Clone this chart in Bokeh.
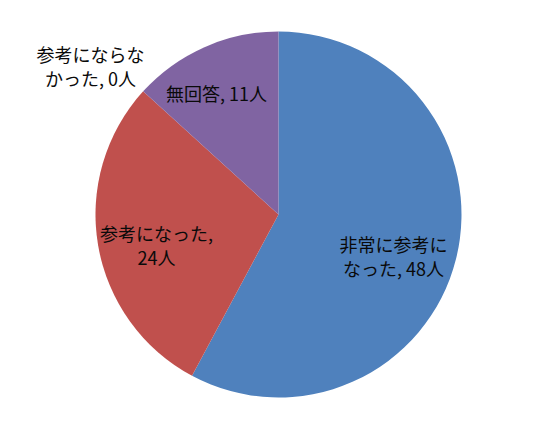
import numpy as np
from bokeh.plotting import figure
from bokeh.models import Range1d, ColumnDataSource
from bokeh.core.properties import value
from bokeh.embed import file_html
from bokeh.resources import INLINE

# ---- data ----
categories = ["非常に参考になった", "参考になった", "参考にならなかった", "無回答"]
counts = [48, 24, 0, 11]
label_texts = ["非常に参考に\nなった, 48人", "参考になった,\n24人", "参考にならな\nかった, 0人", "無回答, 11人"]

# ---- styles / layout ----
colors = ["#4F81BD", "#C0504D", "#9BBB59", "#8064A2"]
W, H = 518, 405
PAGE_H = 421
CX, CY, R = 278, PAGE_H - 214, 183
label_px = [(393, 255.5), (156, 244.5), (90, 65.5), (216, 92)]

vals = np.array(counts, dtype=float)
frac = vals / vals.sum()
cum_end = np.cumsum(frac)
cum_start = cum_end - frac
start = np.pi / 2 - 2 * np.pi * cum_start
end = np.pi / 2 - 2 * np.pi * cum_end

keep = vals > 0
wsrc = ColumnDataSource(dict(
    cat=[c for c, k in zip(categories, keep) if k],
    start=start[keep].tolist(),
    end=end[keep].tolist(),
    color=[c for c, k in zip(colors, keep) if k],
))

lsrc = ColumnDataSource(dict(
    x=[p[0] for p in label_px],
    y=[PAGE_H - p[1] for p in label_px],
    text=label_texts,
))

p = figure(width=W, height=H, output_backend="svg", toolbar_location=None,
           x_range=Range1d(0, W), y_range=Range1d(PAGE_H - H, PAGE_H),
           x_axis_type=None, y_axis_type=None, min_border=0,
           outline_line_color=None, background_fill_color="white",
           border_fill_color="white")
p.grid.visible = False

p.wedge(x=CX, y=CY, radius=R, start_angle="start", end_angle="end",
        direction="clock", fill_color="color", line_color=None, source=wsrc)

p.text(x="x", y="y", text="text", source=lsrc,
       text_font=value("Noto Sans CJK JP"), text_font_size="18px",
       text_color="#0a0a0a", text_align="center", text_baseline="middle",
       text_line_height=0.93)

open("out.html", "w").write(file_html(p, INLINE))
